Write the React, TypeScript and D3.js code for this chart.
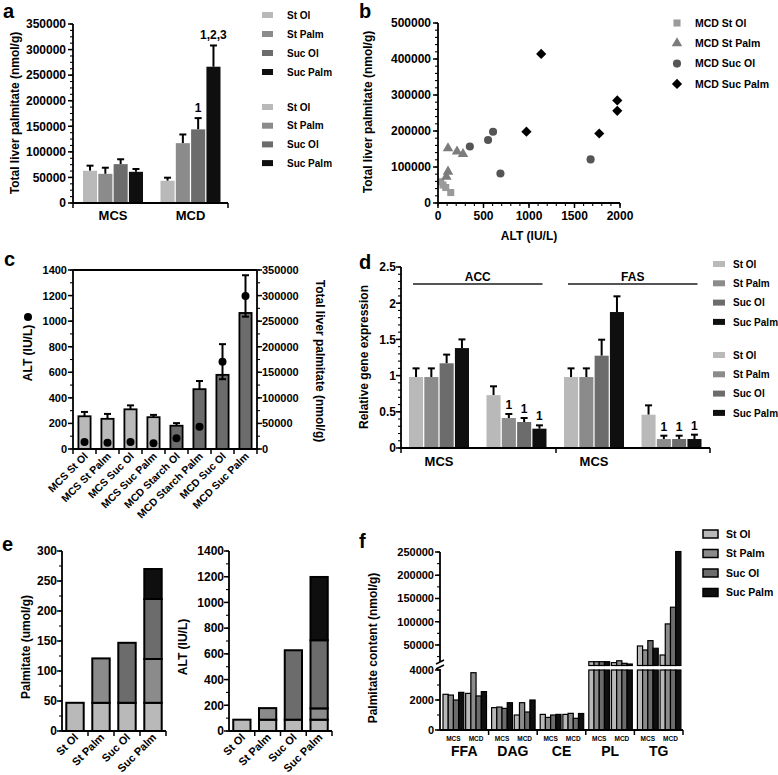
import React from 'react';
import * as d3 from 'd3';

const FONT = '"Liberation Sans", Arial, Helvetica, sans-serif';
const COLORS = ['#b9b9b9', '#8b8b8b', '#6c6c6c', '#0f0f0f'];

const diets = ['St Ol', 'St Palm', 'Suc Ol', 'Suc Palm'];

// ---------- Panel a ----------
const aGroups = ['MCS', 'MCD'];
const aMCS = [63000, 57000, 76000, 61000];
const aMCSErr = [73000, 69000, 85500, 66500];
const aMCD = [43500, 117000, 144000, 266500];
const aMCDErr = [49500, 134000, 166000, 308000];
const aMCSNote = ['', '', '', ''];
const aMCDNote = ['', '', '1', '1,2,3'];
const aTicks = [0, 50000, 100000, 150000, 200000, 250000, 300000, 350000];

// ---------- Panel b ----------
const bSeries = ['MCD St Ol', 'MCD St Palm', 'MCD Suc Ol', 'MCD Suc Palm'];
const bStOlALT = [30, 55, 85, 140];
const bStOlPalm = [59000, 50000, 43000, 29000];
const bStPalmALT = [110, 209, 275, 110, 92];
const bStPalmPalm = [152000, 143000, 136000, 87000, 73000];
const bSucOlALT = [350, 550, 605, 686, 1677];
const bSucOlPalm = [157000, 175000, 198000, 82000, 121000];
const bSucPalmALT = [972, 1134, 1772, 1970, 1970];
const bSucPalmPalm = [198000, 414000, 193000, 285000, 256000];
const bYTicks = [0, 100000, 200000, 300000, 400000, 500000];
const bXTicks = [0, 500, 1000, 1500, 2000];

// ---------- Panel c ----------
const cCats = ['MCS St Ol', 'MCS St Palm', 'MCS Suc Ol', 'MCS Suc Palm', 'MCD Starch Ol', 'MCD Starch Palm', 'MCD Suc Ol', 'MCD Suc Palm'];
const cPalm = [64000, 59000, 77600, 62200, 45500, 117000, 145000, 266000];
const cPalmErr = [72500, 68600, 85300, 66700, 50600, 133000, 0, 0];
const cALT = [54, 49, 54, 44, 85, 174, 683, 1197];
const cALTErr = [0, 0, 0, 0, 0, 0, 137, 162];
const cLeftTicks = [0, 200, 400, 600, 800, 1000, 1200, 1400];
const cRightTicks = [0, 50000, 100000, 150000, 200000, 250000, 300000, 350000];

// ---------- Panel d ----------
const dGroups = ['ACC MCS', 'ACC MCD', 'FAS MCS', 'FAS MCD'];
const dACCMCS = [0.98, 0.98, 1.17, 1.38];
const dACCMCSErr = [1.1, 1.1, 1.29, 1.5];
const dACCMCD = [0.73, 0.414, 0.359, 0.267];
const dACCMCDErr = [0.852, 0.47, 0.414, 0.313];
const dFASMCS = [0.98, 0.98, 1.275, 1.878];
const dFASMCSErr = [1.1, 1.1, 1.496, 2.095];
const dFASMCD = [0.46, 0.124, 0.124, 0.124];
const dFASMCDErr = [0.589, 0.17, 0.17, 0.184];
const dNoteMCS = ['', '', '', ''];
const dNoteMCD = ['', '1', '1', '1'];
const dTicks = [0, 0.5, 1, 1.5, 2, 2.5];
const dTickLabels = ['0', '0.5', '1', '1.5', '2', '2.5'];
const dGenes = ['ACC', 'FAS'];
const dXLabels = ['MCS', 'MCS'];

// ---------- Panel e ----------
const eCats = ['St Ol', 'St Palm', 'Suc Ol', 'Suc Palm'];
const ePalmStOl = [47, 47, 47, 47];
const ePalmStPalm = [0, 74, 0, 73];
const ePalmSucOl = [0, 0, 100, 100];
const ePalmSucPalm = [0, 0, 0, 50];
const eALTStOl = [88, 88, 88, 88];
const eALTStPalm = [0, 90, 0, 88];
const eALTSucOl = [0, 0, 540, 530];
const eALTSucPalm = [0, 0, 0, 492];
const ePalmTicks = [0, 50, 100, 150, 200, 250, 300];
const eALTTicks = [0, 200, 400, 600, 800, 1000, 1200, 1400];

// ---------- Panel f ----------
const fLipids = ['FFA', 'DAG', 'CE', 'PL', 'TG'];
const fDietGroups = ['MCS', 'MCD'];
const fStOlMCS = [2380, 1490, 1040, 14000, 47800];
const fStPalmMCS = [2330, 1530, 840, 14000, 39200];
const fSucOlMCS = [2000, 1440, 1000, 14000, 59300];
const fSucPalmMCS = [2510, 1820, 1040, 14000, 42900];
const fStOlMCD = [2440, 1000, 1040, 12000, 28400];
const fStPalmMCD = [3820, 1820, 1110, 16000, 95300];
const fSucOlMCD = [2270, 1200, 780, 10500, 131200];
const fSucPalmMCD = [2560, 2000, 1100, 9000, 251000];
const fUpperTicks = [50000, 100000, 150000, 200000, 250000];
const fLowerTicks = [0, 2000, 4000];

type AxisProps = {
  scale: (v: number) => number;
  x: number;
  from: number;
  to: number;
  major: number[];
  labels?: string[];
  minor?: number[];
  side?: 'left' | 'right';
  fs?: number;
  majorLen?: number;
  minorLen?: number;
  gap?: number;
  sw?: number;
};

function YAxis({ scale, x, from, to, major, labels, minor = [], side = 'left', fs = 11, majorLen = 5, minorLen = 3, gap = 2, sw = 1.8 }: AxisProps) {
  const dir = side === 'left' ? -1 : 1;
  return (
    <g>
      <line x1={x} x2={x} y1={from} y2={to} stroke="#000" strokeWidth={sw} />
      {minor.map((v) => (
        <line key={'m' + v} x1={x} x2={x + dir * minorLen} y1={scale(v)} y2={scale(v)} stroke="#000" strokeWidth={1.1} />
      ))}
      {major.map((v, i) => (
        <g key={'M' + v}>
          <line x1={x} x2={x + dir * majorLen} y1={scale(v)} y2={scale(v)} stroke="#000" strokeWidth={1.5} />
          <text x={x + dir * (majorLen + gap)} y={scale(v)} dy="0.36em" textAnchor={side === 'left' ? 'end' : 'start'} fontSize={fs} fontWeight="bold">
            {labels ? labels[i] : String(v)}
          </text>
        </g>
      ))}
    </g>
  );
}

function ErrBar({ cx, y0, y1, yLow, cap = 3.5 }: { cx: number; y0: number; y1: number; yLow?: number; cap?: number }) {
  return (
    <g stroke="#000" strokeWidth={2}>
      <line x1={cx} x2={cx} y1={yLow !== undefined ? yLow : y0} y2={y1} />
      <line x1={cx - cap} x2={cx + cap} y1={y1} y2={y1} />
      {yLow !== undefined && <line x1={cx - cap} x2={cx + cap} y1={yLow} y2={yLow} />}
    </g>
  );
}

function minorRange(lo: number, hi: number, step: number) {
  return d3.range(lo, hi + step / 2, step);
}

function PanelA() {
  const y = d3.scaleLinear().domain([0, 350000]).range([203, 24]);
  const x0 = d3.scaleBand<string>().domain(aGroups).range([83, 220.5]).paddingInner(0.226);
  const x1 = d3.scaleBand<string>().domain(diets).range([0, x0.bandwidth()]).paddingInner(0.08);
  const series = [
    { g: 'MCS', v: aMCS, e: aMCSErr, n: aMCSNote },
    { g: 'MCD', v: aMCD, e: aMCDErr, n: aMCDNote },
  ];
  const legendRows = [...diets, ...diets];
  return (
    <g>
      <text x={3} y={18} fontSize={20} fontWeight="bold">a</text>
      {series.map((s) =>
        s.v.map((v, i) => {
          const bx = (x0(s.g) as number) + (x1(diets[i]) as number);
          const w = x1.bandwidth();
          const cx = bx + w / 2;
          return (
            <g key={s.g + i}>
              <ErrBar cx={cx} y0={y(v)} y1={y(s.e[i])} />
              <rect x={bx} y={y(v)} width={w} height={y(0) - y(v)} fill={COLORS[i]} />
              {s.n[i] && (
                <text x={cx} y={y(s.e[i]) - 6} textAnchor="middle" fontSize={12} fontWeight="bold">{s.n[i]}</text>
              )}
            </g>
          );
        })
      )}
      <YAxis scale={y} x={73} from={203} to={24} major={aTicks} minor={minorRange(0, 350000, 12500)} fs={12} />
      <line x1={73} x2={228} y1={203} y2={203} stroke="#000" strokeWidth={1.8} />
      <line x1={228} x2={228} y1={203} y2={208} stroke="#000" strokeWidth={1.5} />
      <line x1={73} x2={73} y1={203} y2={208} stroke="#000" strokeWidth={1.5} />
      {aGroups.map((g) => (
        <text key={g} x={(x0(g) as number) + x0.bandwidth() / 2} y={220} textAnchor="middle" fontSize={13} fontWeight="bold">{g}</text>
      ))}
      <text transform="translate(19,113) rotate(-90)" textAnchor="middle" fontSize={12} fontWeight="bold">Total liver palmitate (nmol/g)</text>
      {legendRows.map((d, i) => {
        const yy = i < 4 ? 15 + i * 19 : 107 + (i - 4) * 18.7;
        return (
          <g key={'lg' + i}>
            <rect x={262} y={yy - 3} width={11} height={6} fill={COLORS[i % 4]} />
            <text x={287} y={yy} dy="0.36em" fontSize={10} fontWeight="bold">{d}</text>
          </g>
        );
      })}
    </g>
  );
}

function PanelB() {
  const x = d3.scaleLinear().domain([0, 2000]).range([438, 620]);
  const y = d3.scaleLinear().domain([0, 500000]).range([203, 23]);
  const sq = d3.symbol().type(d3.symbolSquare).size(50)() as string;
  const tri = d3.symbol().type(d3.symbolTriangle).size(48)() as string;
  const cir = d3.symbol().type(d3.symbolCircle).size(52)() as string;
  const dia = d3.symbol().type(d3.symbolSquare).size(52)() as string;
  const sets = [
    { a: bStOlALT, p: bStOlPalm, path: sq, fill: '#9a9a9a', rot: 0 },
    { a: bStPalmALT, p: bStPalmPalm, path: tri, fill: '#7c7c7c', rot: 0 },
    { a: bSucOlALT, p: bSucOlPalm, path: cir, fill: '#555555', rot: 0 },
    { a: bSucPalmALT, p: bSucPalmPalm, path: dia, fill: '#000000', rot: 45 },
  ];
  return (
    <g>
      <text x={359} y={18} fontSize={20} fontWeight="bold">b</text>
      {sets.map((s, k) =>
        s.a.map((a, i) => (
          <path key={k + '-' + i} d={s.path} fill={s.fill} transform={`translate(${x(a)},${y(s.p[i])}) rotate(${s.rot})`} />
        ))
      )}
      <YAxis scale={y} x={438} from={203} to={23} major={bYTicks} minor={minorRange(0, 500000, 20000)} fs={12} />
      <line x1={438} x2={620} y1={203} y2={203} stroke="#000" strokeWidth={1.8} />
      {minorRange(0, 2000, 100).map((v) => (
        <line key={'xm' + v} x1={x(v)} x2={x(v)} y1={203} y2={206} stroke="#000" strokeWidth={1.1} />
      ))}
      {bXTicks.map((v) => (
        <g key={'xt' + v}>
          <line x1={x(v)} x2={x(v)} y1={203} y2={208} stroke="#000" strokeWidth={1.5} />
          <text x={x(v)} y={220} textAnchor="middle" fontSize={12} fontWeight="bold">{v}</text>
        </g>
      ))}
      <text x={529} y={240} textAnchor="middle" fontSize={12} fontWeight="bold">ALT (IU/L)</text>
      <text transform="translate(372,112) rotate(-90)" textAnchor="middle" fontSize={12} fontWeight="bold">Total liver palmitate (nmol/g)</text>
      {bSeries.map((d, i) => (
        <g key={'bl' + i}>
          <path d={sets[i].path} fill={sets[i].fill} transform={`translate(677,${23 + i * 20.3}) rotate(${sets[i].rot})`} />
          <text x={695} y={23 + i * 20.3} dy="0.36em" fontSize={10.5} fontWeight="bold">{d}</text>
        </g>
      ))}
    </g>
  );
}

function PanelC() {
  const x = d3.scaleBand<string>().domain(cCats).range([73, 257]).paddingInner(0.47).paddingOuter(0.235);
  const yL = d3.scaleLinear().domain([0, 1400]).range([449, 270]);
  const yR = d3.scaleLinear().domain([0, 350000]).range([449, 270]);
  const step = x.step();
  return (
    <g>
      <text x={4} y={266} fontSize={20} fontWeight="bold">c</text>
      {cCats.map((c, i) => {
        const bx = x(c) as number;
        const w = x.bandwidth();
        const cx = bx + w / 2;
        return (
          <g key={c}>
            {cPalmErr[i] > 0 && <ErrBar cx={cx} y0={yR(cPalm[i])} y1={yR(cPalmErr[i])} />}
            <rect x={bx} y={yR(cPalm[i])} width={w} height={yR(0) - yR(cPalm[i])} fill={c.startsWith('MCS') ? '#b9b9b9' : '#6c6c6c'} stroke="#000" strokeWidth={1.8} />
            {cALTErr[i] > 0 && <ErrBar cx={cx} y0={yL(cALT[i])} y1={yL(cALT[i] + cALTErr[i])} yLow={yL(cALT[i] - cALTErr[i])} />}
            <circle cx={cx} cy={yL(cALT[i])} r={4} fill="#000" />
            <text transform={`translate(${cx + 4},${457}) rotate(-45)`} textAnchor="end" fontSize={10.5} fontWeight="bold">{c}</text>
          </g>
        );
      })}
      <line x1={73} x2={257} y1={270} y2={270} stroke="#000" strokeWidth={1.8} />
      <YAxis scale={yL} x={73} from={449} to={270} major={cLeftTicks} minor={minorRange(0, 1400, 100)} fs={11} gap={1} />
      <YAxis scale={yR} x={257} from={449} to={270} major={cRightTicks} minor={minorRange(0, 350000, 25000)} side="right" fs={11} gap={0} />
      <line x1={73} x2={257} y1={449} y2={449} stroke="#000" strokeWidth={1.8} />
      {cCats.map((c, i) => (
        <line key={'ct' + i} x1={73 + step * (i + 1)} x2={73 + step * (i + 1)} y1={449} y2={454} stroke="#000" strokeWidth={1.5} />
      ))}
      <line x1={73} x2={73} y1={449} y2={454} stroke="#000" strokeWidth={1.5} />
      <text transform="translate(32,353) rotate(-90)" textAnchor="middle" fontSize={12} fontWeight="bold">ALT (IU/L)</text>
      <circle cx={28} cy={317} r={4} fill="#000" />
      <text transform="translate(316,361) rotate(90)" textAnchor="middle" fontSize={12} fontWeight="bold">Total liver palmitate (nmol/g)</text>
    </g>
  );
}

function PanelD() {
  const y = d3.scaleLinear().domain([0, 2.5]).range([448, 267]);
  const x0 = d3.scaleBand<string>().domain(dGroups).range([409, 701.5]).paddingInner(0.226);
  const x1 = d3.scaleBand<string>().domain(diets).range([0, x0.bandwidth()]).paddingInner(0.08);
  const series = [
    { g: dGroups[0], v: dACCMCS, e: dACCMCSErr, n: dNoteMCS },
    { g: dGroups[1], v: dACCMCD, e: dACCMCDErr, n: dNoteMCD },
    { g: dGroups[2], v: dFASMCS, e: dFASMCSErr, n: dNoteMCS },
    { g: dGroups[3], v: dFASMCD, e: dFASMCDErr, n: dNoteMCD },
  ];
  const legendRows = [...diets, ...diets];
  return (
    <g>
      <text x={359} y={269} fontSize={20} fontWeight="bold">d</text>
      {series.map((s) =>
        s.v.map((v, i) => {
          const bx = (x0(s.g) as number) + (x1(diets[i]) as number);
          const w = x1.bandwidth();
          const cx = bx + w / 2;
          return (
            <g key={s.g + i}>
              <ErrBar cx={cx} y0={y(v)} y1={y(s.e[i])} />
              <rect x={bx} y={y(v)} width={w} height={y(0) - y(v)} fill={COLORS[i]} />
              {s.n[i] && (
                <text x={cx} y={y(s.e[i]) - 5} textAnchor="middle" fontSize={12} fontWeight="bold">{s.n[i]}</text>
              )}
            </g>
          );
        })
      )}
      <YAxis scale={y} x={401} from={448} to={267} major={dTicks} labels={dTickLabels} minor={minorRange(0, 2.5, 0.1)} fs={12} gap={0} />
      <line x1={401} x2={710} y1={448} y2={448} stroke="#000" strokeWidth={1.8} />
      {[401, 556, 710].map((xx) => (
        <line key={'dt' + xx} x1={xx} x2={xx} y1={448} y2={453} stroke="#000" strokeWidth={1.5} />
      ))}
      {dGenes.map((g, k) => {
        const l = (x0(dGroups[k * 2]) as number) + 4;
        const r = (x0(dGroups[k * 2 + 1]) as number) + x0.bandwidth() - 4;
        return (
          <g key={g}>
            <line x1={l} x2={r} y1={284} y2={284} stroke="#555" strokeWidth={2} />
            <text x={(l + r) / 2} y={281} textAnchor="middle" fontSize={12} fontWeight="bold">{g}</text>
          </g>
        );
      })}
      {dXLabels.map((t, k) => (
        <text key={'dx' + k} x={(x0(dGroups[k * 2]) as number) + x0.bandwidth() / 2} y={466} textAnchor="middle" fontSize={13} fontWeight="bold">{t}</text>
      ))}
      <text transform="translate(368,357) rotate(-90)" textAnchor="middle" fontSize={12} fontWeight="bold">Relative gene expression</text>
      {legendRows.map((d, i) => {
        const yy = i < 4 ? 264 + i * 19.3 : 355 + (i - 4) * 19.3;
        return (
          <g key={'dl' + i}>
            <rect x={713} y={yy - 3} width={12} height={6} fill={COLORS[i % 4]} />
            <text x={733} y={yy} dy="0.36em" fontSize={10} fontWeight="bold">{d}</text>
          </g>
        );
      })}
    </g>
  );
}

function StackChart({ x0, x1, y, data, ticks, minorStep, label, labelX }: { x0: number; x1: number; y: d3.ScaleLinear<number, number>; data: number[][]; ticks: number[]; minorStep: number; label: string; labelX: number }) {
  const x = d3.scaleBand<string>().domain(eCats).range([x0, x1]).paddingInner(0.33).paddingOuter(0.165);
  const rows = eCats.map((c, i) => {
    const o: any = { cat: c };
    diets.forEach((d, k) => (o[d] = data[k][i]));
    return o;
  });
  const stacked = d3.stack<any>().keys(diets)(rows);
  const step = x.step();
  const max = ticks[ticks.length - 1];
  return (
    <g>
      {stacked.map((layer, k) =>
        layer.map((seg, i) => {
          if (seg[1] - seg[0] <= 0) return null;
          return (
            <rect key={k + '-' + i} x={x(eCats[i]) as number} y={y(seg[1])} width={x.bandwidth()} height={y(seg[0]) - y(seg[1])} fill={COLORS[k]} stroke="#000" strokeWidth={2} />
          );
        })
      )}
      <YAxis scale={y} x={x0} from={731} to={551} major={ticks} minor={minorRange(0, max, minorStep)} fs={12} gap={0} />
      <line x1={x0} x2={x1} y1={731} y2={731} stroke="#000" strokeWidth={1.8} />
      {eCats.map((c, i) => (
        <g key={c}>
          <line x1={x0 + step * (i + 1)} x2={x0 + step * (i + 1)} y1={731} y2={736} stroke="#000" strokeWidth={1.5} />
          <text transform={`translate(${(x(c) as number) + x.bandwidth() / 2 + 4},738) rotate(-45)`} textAnchor="end" fontSize={11} fontWeight="bold">{c}</text>
        </g>
      ))}
      <text transform={`translate(${labelX},647) rotate(-90)`} textAnchor="middle" fontSize={12} fontWeight="bold">{label}</text>
    </g>
  );
}

function PanelE() {
  const yP = d3.scaleLinear().domain([0, 300]).range([731, 551]);
  const yA = d3.scaleLinear().domain([0, 1400]).range([731, 551]);
  return (
    <g>
      <text x={2} y={551} fontSize={20} fontWeight="bold">e</text>
      <StackChart x0={62} x1={166} y={yP} data={[ePalmStOl, ePalmStPalm, ePalmSucOl, ePalmSucPalm]} ticks={ePalmTicks} minorStep={25} label="Palmitate (umol/g)" labelX={30} />
      <StackChart x0={229} x1={332} y={yA} data={[eALTStOl, eALTStPalm, eALTSucOl, eALTSucPalm]} ticks={eALTTicks} minorStep={100} label="ALT (IU/L)" labelX={187} />
    </g>
  );
}

function PanelF() {
  const yLow = d3.scaleLinear().domain([0, 4000]).range([730, 670]);
  const yUp = d3.scaleLinear().domain([0, 250000]).range([668.2, 552]);
  const upBase = 665.5;
  const xg = d3.scaleBand<string>().domain(fLipids).range([440, 683]);
  const xs = d3.scaleBand<string>().domain(fDietGroups).range([3, 46.5]).paddingInner(0.08);
  const xd = d3.scaleBand<string>().domain(diets).range([0, xs.bandwidth()]);
  const vals: Record<string, number[][]> = {
    MCS: [fStOlMCS, fStPalmMCS, fSucOlMCS, fSucPalmMCS],
    MCD: [fStOlMCD, fStPalmMCD, fSucOlMCD, fSucPalmMCD],
  };
  return (
    <g>
      <text x={359} y={548} fontSize={20} fontWeight="bold">f</text>
      {fLipids.map((lip, li) =>
        fDietGroups.map((g) =>
          diets.map((d, k) => {
            const v = vals[g][k][li];
            const bx = (xg(lip) as number) + (xs(g) as number) + (xd(d) as number);
            const w = xd.bandwidth();
            const low = Math.min(v, 4000);
            return (
              <g key={lip + g + d}>
                <rect x={bx} y={yLow(low)} width={w} height={yLow(0) - yLow(low)} fill={COLORS[k]} stroke="#000" strokeWidth={1.2} />
                {v > 4000 && (
                  <rect x={bx} y={yUp(v)} width={w} height={upBase - yUp(v)} fill={COLORS[k]} stroke="#000" strokeWidth={1.2} />
                )}
              </g>
            );
          })
        )
      )}
      <YAxis scale={yUp} x={440} from={662} to={552} major={fUpperTicks} minor={minorRange(25000, 250000, 25000)} fs={11} gap={1} />
      <YAxis scale={yLow} x={440} from={730} to={669} major={fLowerTicks} minor={minorRange(0, 4000, 1000)} fs={11} gap={1} />
      <path d="M436,664 L444,660 M436,669 L444,665" stroke="#000" strokeWidth={1.4} fill="none" />
      <line x1={440} x2={683} y1={730} y2={730} stroke="#000" strokeWidth={1.8} />
      {fLipids.map((lip) => {
        const gx = xg(lip) as number;
        return (
          <g key={'fl' + lip}>
            <line x1={gx + xg.bandwidth()} x2={gx + xg.bandwidth()} y1={730} y2={735} stroke="#000" strokeWidth={1.5} />
            {fDietGroups.map((g) => (
              <text key={g} x={gx + (xs(g) as number) + xs.bandwidth() / 2} y={741} textAnchor="middle" fontSize={6.5} fontWeight="bold">{g}</text>
            ))}
            <text x={gx + xg.bandwidth() / 2} y={756} textAnchor="middle" fontSize={14} fontWeight="bold">{lip}</text>
          </g>
        );
      })}
      <text transform="translate(377,648) rotate(-90)" textAnchor="middle" fontSize={12} fontWeight="bold">Palmitate content (nmol/g)</text>
      {diets.map((d, i) => (
        <g key={'fleg' + i}>
          <rect x={703} y={530 + i * 19.5} width={15} height={8} fill={COLORS[i]} stroke="#000" strokeWidth={1.5} />
          <text x={726} y={534 + i * 19.5} dy="0.36em" fontSize={10.5} fontWeight="bold">{d}</text>
        </g>
      ))}
    </g>
  );
}

export default function App() {
  return (
    <svg width={778} height={775} style={{ position: 'absolute', left: 0, top: 0, background: '#fff' }} fontFamily={FONT}>
      <rect x={0} y={0} width={778} height={775} fill="#fff" />
      <PanelA />
      <PanelB />
      <PanelC />
      <PanelD />
      <PanelE />
      <PanelF />
    </svg>
  );
}
